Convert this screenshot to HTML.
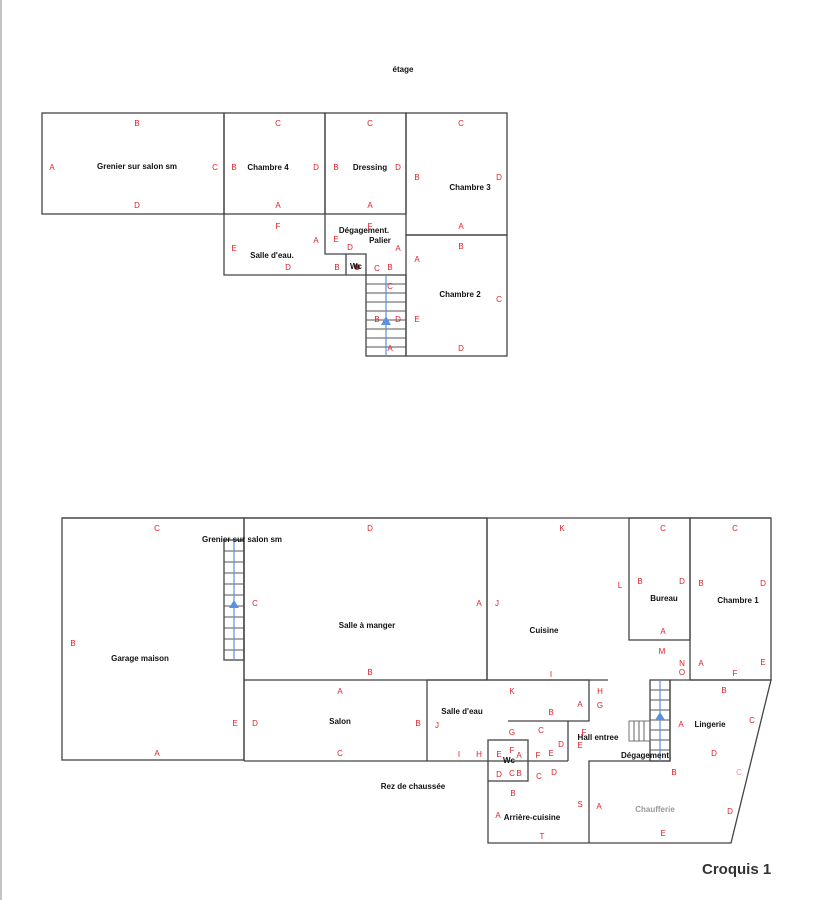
<!DOCTYPE html>
<html><head><meta charset="utf-8"><style>
html,body{margin:0;padding:0;background:#fff;}
svg{display:block;font-family:"Liberation Sans",sans-serif;}
.l{fill:#e0202a;font-size:8px;text-anchor:middle;}
.n{fill:#111;font-size:8px;font-weight:bold;text-anchor:middle;}
.w{stroke:#444;stroke-width:1.3;fill:none;}
.t{stroke:#555;stroke-width:0.9;}
</style></head><body>
<svg width="822" height="900" viewBox="0 0 822 900">
<line x1="1" y1="0" x2="1" y2="900" stroke="#888" stroke-width="1"/>
<text class="n" x="403" y="72">étage</text>
<!-- upper -->
<rect class="w" x="42" y="113" width="182" height="101"/>
<rect class="w" x="224" y="113" width="101" height="101"/>
<rect class="w" x="325" y="113" width="81" height="101"/>
<rect class="w" x="406" y="113" width="101" height="122"/>
<rect class="w" x="406" y="235" width="101" height="121"/>
<polyline class="w" points="224,214 224,275 366,275"/>
<polyline class="w" points="325,214 325,254 366,254 366,275"/>
<line class="w" x1="346" y1="254" x2="346" y2="275"/>
<rect class="w" x="366" y="275" width="40" height="81"/>
<g class="t">
<line x1="366" y1="284" x2="406" y2="284"/><line x1="366" y1="293" x2="406" y2="293"/><line x1="366" y1="302" x2="406" y2="302"/><line x1="366" y1="311" x2="406" y2="311"/><line x1="366" y1="320" x2="406" y2="320"/><line x1="366" y1="329" x2="406" y2="329"/><line x1="366" y1="338" x2="406" y2="338"/><line x1="366" y1="347" x2="406" y2="347"/>
</g>
<line x1="386" y1="275" x2="386" y2="356" stroke="#5b8fe0" stroke-width="1.2"/>
<polygon points="386,316 381,325 391,325" fill="#5b8fe0"/>
<circle cx="357" cy="267" r="3" fill="#e0202a"/>
<text class="n" x="137" y="169">Grenier sur salon sm</text>
<text class="l" x="137" y="126">B</text><text class="l" x="52" y="170">A</text><text class="l" x="215" y="170">C</text><text class="l" x="137" y="208">D</text>
<text class="n" x="268" y="170">Chambre 4</text>
<text class="l" x="278" y="126">C</text><text class="l" x="234" y="170">B</text><text class="l" x="316" y="170">D</text><text class="l" x="278" y="208">A</text>
<text class="n" x="370" y="170">Dressing</text>
<text class="l" x="370" y="126">C</text><text class="l" x="336" y="170">B</text><text class="l" x="398" y="170">D</text><text class="l" x="370" y="208">A</text>
<text class="n" x="470" y="190">Chambre 3</text>
<text class="l" x="461" y="126">C</text><text class="l" x="417" y="180">B</text><text class="l" x="499" y="180">D</text><text class="l" x="461" y="229">A</text>
<text class="n" x="460" y="297">Chambre 2</text>
<text class="l" x="461" y="249">B</text><text class="l" x="417" y="262">A</text><text class="l" x="499" y="302">C</text><text class="l" x="417" y="322">E</text><text class="l" x="461" y="351">D</text>
<text class="n" x="272" y="258">Salle d'eau.</text>
<text class="l" x="278" y="229">F</text><text class="l" x="234" y="251">E</text><text class="l" x="316" y="243">A</text><text class="l" x="288" y="270">D</text><text class="l" x="337" y="270">B</text>
<text class="n" x="364" y="233">Dégagement.</text><text class="n" x="380" y="243">Palier</text>
<text class="l" x="370" y="229">F</text><text class="l" x="336" y="242">E</text><text class="l" x="350" y="250">D</text><text class="l" x="398" y="251">A</text>
<text class="n" x="356" y="269">Wc</text>
<text class="l" x="377" y="271">C</text><text class="l" x="390" y="270">B</text><text class="l" x="390" y="289">C</text><text class="l" x="377" y="322">B</text><text class="l" x="398" y="322">D</text><text class="l" x="390" y="351">A</text>
<!-- lower -->
<rect class="w" x="62" y="518" width="182" height="242"/>
<line class="w" x1="62" y1="518" x2="771" y2="518"/>
<rect class="w" x="244" y="518" width="243" height="162"/>
<line class="w" x1="487" y1="518" x2="487" y2="680"/>
<line class="w" x1="487" y1="680" x2="608" y2="680"/>
<rect class="w" x="629" y="518" width="61" height="122"/>
<rect class="w" x="690" y="518" width="81" height="162"/>
<line class="w" x1="244" y1="680" x2="244" y2="761"/>
<line class="w" x1="244" y1="761" x2="568" y2="761"/>
<line class="w" x1="427" y1="680" x2="427" y2="761"/>
<polyline class="w" points="427,680 589,680 589,721 508,721"/>
<line class="w" x1="568" y1="721" x2="568" y2="761"/>
<rect class="w" x="488" y="740" width="40" height="41"/>
<polyline class="w" points="488,781 488,843 731,843 771,680 670,680 670,761 589,761 589,843"/>
<rect class="w" x="224" y="540" width="20" height="120"/>
<g class="t">
<line x1="224" y1="551" x2="244" y2="551"/><line x1="224" y1="562" x2="244" y2="562"/><line x1="224" y1="573" x2="244" y2="573"/><line x1="224" y1="584" x2="244" y2="584"/><line x1="224" y1="595" x2="244" y2="595"/><line x1="224" y1="606" x2="244" y2="606"/><line x1="224" y1="617" x2="244" y2="617"/><line x1="224" y1="628" x2="244" y2="628"/><line x1="224" y1="639" x2="244" y2="639"/><line x1="224" y1="650" x2="244" y2="650"/>
</g>
<line x1="234" y1="540" x2="234" y2="660" stroke="#5b8fe0" stroke-width="1.2"/>
<polygon points="234,600 229,608 239,608" fill="#5b8fe0"/>
<rect class="w" x="650" y="680" width="20" height="81"/>
<g class="t">
<line x1="650" y1="690" x2="670" y2="690"/><line x1="650" y1="700" x2="670" y2="700"/><line x1="650" y1="710" x2="670" y2="710"/><line x1="650" y1="720" x2="670" y2="720"/><line x1="650" y1="730" x2="670" y2="730"/><line x1="650" y1="740" x2="670" y2="740"/><line x1="650" y1="750" x2="670" y2="750"/>
</g>
<line x1="660" y1="680" x2="660" y2="761" stroke="#5b8fe0" stroke-width="1.2"/>
<polygon points="660,712 655,720 665,720" fill="#5b8fe0"/>
<rect x="629" y="721" width="21" height="20" fill="none" stroke="#666" stroke-width="0.9"/>
<g class="t"><line x1="634" y1="721" x2="634" y2="741"/><line x1="639" y1="721" x2="639" y2="741"/><line x1="644" y1="721" x2="644" y2="741"/></g>
<text class="n" x="242" y="542">Grenier sur salon sm</text>
<text class="n" x="140" y="661">Garage maison</text>
<text class="l" x="157" y="531">C</text><text class="l" x="73" y="646">B</text><text class="l" x="235" y="726">E</text><text class="l" x="157" y="756">A</text>
<text class="n" x="367" y="628">Salle à manger</text>
<text class="l" x="370" y="531">D</text><text class="l" x="255" y="606">C</text><text class="l" x="479" y="606">A</text><text class="l" x="370" y="675">B</text>
<text class="n" x="544" y="633">Cuisine</text>
<text class="l" x="562" y="531">K</text><text class="l" x="497" y="606">J</text><text class="l" x="620" y="588">L</text><text class="l" x="551" y="677">I</text>
<text class="n" x="664" y="601">Bureau</text>
<text class="l" x="663" y="531">C</text><text class="l" x="640" y="584">B</text><text class="l" x="682" y="584">D</text><text class="l" x="663" y="634">A</text>
<text class="n" x="738" y="603">Chambre 1</text>
<text class="l" x="735" y="531">C</text><text class="l" x="701" y="586">B</text><text class="l" x="763" y="586">D</text><text class="l" x="701" y="666">A</text><text class="l" x="735" y="676">F</text><text class="l" x="763" y="665">E</text>
<text class="l" x="662" y="654">M</text><text class="l" x="682" y="666">N</text><text class="l" x="682" y="675">O</text>
<text class="n" x="340" y="724">Salon</text>
<text class="l" x="340" y="694">A</text><text class="l" x="255" y="726">D</text><text class="l" x="418" y="726">B</text><text class="l" x="340" y="756">C</text>
<text class="n" x="462" y="714">Salle d'eau</text>
<text class="l" x="512" y="694">K</text><text class="l" x="437" y="728">J</text><text class="l" x="580" y="707">A</text><text class="l" x="551" y="715">B</text><text class="l" x="600" y="694">H</text><text class="l" x="600" y="708">G</text>
<text class="l" x="459" y="757">I</text><text class="l" x="479" y="757">H</text>
<text class="l" x="512" y="735">G</text><text class="l" x="541" y="733">C</text><text class="l" x="561" y="747">D</text><text class="l" x="551" y="756">E</text><text class="l" x="538" y="758">F</text>
<text class="n" x="598" y="740">Hall entree</text>
<text class="l" x="584" y="735">F</text><text class="l" x="580" y="748">E</text>
<text class="n" x="509" y="763">Wc</text>
<text class="l" x="499" y="757">E</text><text class="l" x="512" y="753">F</text><text class="l" x="519" y="758">A</text><text class="l" x="499" y="777">D</text><text class="l" x="512" y="776">C</text><text class="l" x="519" y="776">B</text>
<text class="l" x="539" y="779">C</text><text class="l" x="554" y="775">D</text>
<text class="n" x="413" y="789">Rez de chaussée</text>
<text class="n" x="532" y="820">Arrière-cuisine</text>
<text class="l" x="513" y="796">B</text><text class="l" x="498" y="818">A</text><text class="l" x="580" y="807">S</text><text class="l" x="542" y="839">T</text>
<text class="n" x="645" y="758">Dégagement</text>
<text class="n" x="710" y="727" fill="#777">Lingerie</text>
<text class="l" x="724" y="693">B</text><text class="l" x="681" y="727">A</text><text class="l" x="752" y="723">C</text><text class="l" x="714" y="756">D</text>
<text class="n" x="655" y="812" style="fill:#999">Chaufferie</text>
<text class="l" x="674" y="775">B</text><text class="l" x="599" y="809">A</text><text class="l" x="739" y="775" style="fill:#f09090">C</text><text class="l" x="730" y="814">D</text><text class="l" x="663" y="836">E</text>
<text x="702" y="874" style="font-size:15px;font-weight:bold;fill:#333">Croquis 1</text>
</svg>
</body></html>
